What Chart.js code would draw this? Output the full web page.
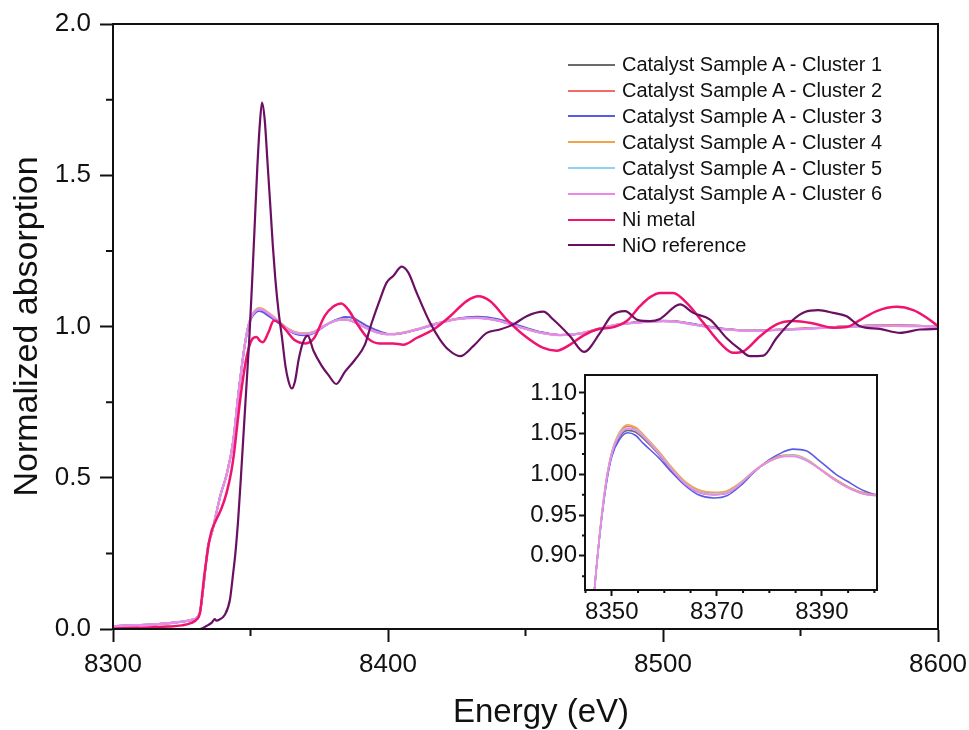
<!DOCTYPE html>
<html>
<head>
<meta charset="utf-8">
<script src="https://cdn.jsdelivr.net/npm/chart.js@4.4.1/dist/chart.umd.min.js"></script>
<style>
  body { margin: 0; background: #fff; }
  #wrap { position: relative; width: 969px; height: 730px; font-family: "Liberation Sans", Arial, sans-serif; }
  #main { position: absolute; left: 0; top: 0; }
  #inset { position: absolute; left: 480px; top: 360px; }
  #legend { position: absolute; left: 568px; top: 52px; }
  #xtitle { position: absolute; left: 541px; top: 694px; transform: translateX(-50%); font-size: 33px; line-height: 33px; color: #111; white-space: nowrap; }
  .row { display: flex; align-items: center; height: 25.8px; font-size: 20px; color: #111; white-space: nowrap; }
  .row .ln { display: inline-block; width: 47px; height: 2px; margin-right: 7px; }
</style>
</head>
<body>
<div id="wrap">
  <canvas id="main" width="969" height="730"></canvas>
  <canvas id="inset" width="420" height="280"></canvas>
  <div id="legend"></div>
  <div id="xtitle">Energy (eV)</div>
</div>
<script>
// axis ticks
const xTicks = [8300, 8400, 8500, 8600];
const xMinor = [8350, 8450, 8550];
const yTicks = [0, 0.5, 1.0, 1.5, 2.0];
const yMinor = [0.25, 0.75, 1.25, 1.75];
const insetXTicks = [8350, 8370, 8390];
const insetXMinor = [8345, 8355, 8360, 8365, 8375, 8380, 8385, 8395, 8400];
const insetYTicks = [0.90, 0.95, 1.00, 1.05, 1.10];
const insetYMinor = [0.875, 0.925, 0.975, 1.025, 1.075];

const seriesNames = ['Catalyst Sample A - Cluster 1', 'Catalyst Sample A - Cluster 2', 'Catalyst Sample A - Cluster 3',
  'Catalyst Sample A - Cluster 4', 'Catalyst Sample A - Cluster 5', 'Catalyst Sample A - Cluster 6', 'Ni metal', 'NiO reference'];
const seriesColors = ['#6b6b6b', '#f26b6b', '#5a5ae6', '#f5a34a', '#8fd3f0', '#ee86ee', '#f0146e', '#6b0f63'];

// energy grid of the six cluster spectra (eV)
const clusterEnergy = [8300, 8310, 8320, 8325, 8328.5, 8331.5, 8333, 8334.5, 8336, 8337.5,
  8339, 8341.3, 8343.7, 8345.5, 8347, 8348, 8349, 8350, 8351.5, 8353,
  8354.5, 8356, 8359, 8361.5, 8364, 8366.5, 8369.5, 8372, 8374.5, 8377,
  8380, 8382.5, 8384.5, 8387, 8389.5, 8392.5, 8395.5, 8398, 8400.5, 8405,
  8410, 8417.5, 8425, 8432.5, 8440, 8448, 8455, 8462.5, 8470, 8477.5,
  8485, 8492.5, 8500, 8506, 8513, 8523, 8533, 8543, 8552, 8562,
  8572, 8584, 8600];

const cluster1 = [0.010, 0.013, 0.019, 0.024, 0.030, 0.052, 0.15, 0.27, 0.32, 0.38,
  0.44, 0.51, 0.62, 0.77, 0.88, 0.943, 0.992, 1.024, 1.046, 1.054,
  1.052, 1.044, 1.024, 1.004, 0.988, 0.978, 0.975, 0.977, 0.988, 1.003,
  1.017, 1.023, 1.023, 1.018, 1.007, 0.994, 0.983, 0.977, 0.975, 0.978,
  0.989, 1.009, 1.025, 1.029, 1.020, 0.998, 0.981, 0.972, 0.977, 0.994,
  1.008, 1.015, 1.018, 1.015, 1.004, 0.991, 0.987, 0.990, 0.993, 0.998,
  1.002, 1.003, 1.001];
const cluster2 = [0.010, 0.013, 0.019, 0.024, 0.030, 0.052, 0.15, 0.27, 0.32, 0.38,
  0.44, 0.51, 0.62, 0.77, 0.88, 0.945, 0.995, 1.027, 1.051, 1.059,
  1.056, 1.047, 1.026, 1.006, 0.990, 0.980, 0.977, 0.979, 0.989, 1.003,
  1.016, 1.022, 1.023, 1.018, 1.007, 0.993, 0.982, 0.976, 0.974, 0.978,
  0.989, 1.009, 1.025, 1.029, 1.020, 0.998, 0.981, 0.972, 0.977, 0.994,
  1.008, 1.015, 1.018, 1.015, 1.004, 0.991, 0.987, 0.990, 0.993, 0.998,
  1.002, 1.003, 1.001];
const cluster3 = [0.010, 0.013, 0.019, 0.024, 0.030, 0.052, 0.15, 0.27, 0.32, 0.38,
  0.44, 0.51, 0.62, 0.77, 0.88, 0.942, 0.990, 1.022, 1.043, 1.051,
  1.048, 1.038, 1.020, 1.002, 0.986, 0.975, 0.971, 0.974, 0.986, 1.002,
  1.018, 1.027, 1.031, 1.029, 1.017, 1.001, 0.989, 0.980, 0.975, 0.978,
  0.988, 1.008, 1.026, 1.032, 1.024, 1.002, 0.983, 0.972, 0.977, 0.993,
  1.008, 1.016, 1.019, 1.016, 1.005, 0.992, 0.987, 0.989, 0.993, 0.998,
  1.002, 1.003, 1.001];
const cluster4 = [0.010, 0.013, 0.019, 0.024, 0.030, 0.052, 0.15, 0.27, 0.32, 0.38,
  0.44, 0.51, 0.62, 0.77, 0.88, 0.945, 0.995, 1.027, 1.052, 1.061,
  1.058, 1.049, 1.028, 1.008, 0.991, 0.981, 0.978, 0.980, 0.990, 1.004,
  1.017, 1.023, 1.024, 1.019, 1.008, 0.994, 0.983, 0.977, 0.975, 0.979,
  0.990, 1.010, 1.025, 1.029, 1.020, 0.998, 0.981, 0.972, 0.978, 0.995,
  1.009, 1.015, 1.018, 1.015, 1.004, 0.991, 0.987, 0.990, 0.993, 0.998,
  1.002, 1.003, 1.001];
const cluster5 = [0.010, 0.013, 0.019, 0.024, 0.030, 0.052, 0.15, 0.27, 0.32, 0.38,
  0.44, 0.51, 0.62, 0.77, 0.88, 0.944, 0.994, 1.026, 1.050, 1.057,
  1.055, 1.047, 1.026, 1.006, 0.989, 0.979, 0.976, 0.978, 0.989, 1.003,
  1.016, 1.022, 1.023, 1.018, 1.007, 0.993, 0.982, 0.976, 0.974, 0.978,
  0.989, 1.009, 1.024, 1.028, 1.019, 0.997, 0.980, 0.971, 0.977, 0.994,
  1.008, 1.014, 1.017, 1.014, 1.003, 0.990, 0.986, 0.989, 0.992, 0.997,
  1.001, 1.002, 1.000];
const cluster6 = [0.010, 0.013, 0.019, 0.024, 0.030, 0.052, 0.15, 0.27, 0.32, 0.38,
  0.44, 0.51, 0.62, 0.77, 0.88, 0.944, 0.993, 1.025, 1.048, 1.056,
  1.054, 1.046, 1.025, 1.005, 0.988, 0.978, 0.975, 0.977, 0.988, 1.003,
  1.016, 1.022, 1.022, 1.017, 1.007, 0.993, 0.982, 0.976, 0.974, 0.978,
  0.989, 1.009, 1.024, 1.028, 1.019, 0.997, 0.980, 0.971, 0.977, 0.994,
  1.008, 1.014, 1.017, 1.014, 1.003, 0.990, 0.986, 0.989, 0.992, 0.997,
  1.001, 1.002, 1.000];

// Ni metal foil
const niEnergy = [8300, 8310, 8320, 8325, 8328.5, 8330.5, 8331.6, 8332.4, 8333.1, 8334,
  8334.8, 8335.7, 8336.5, 8338, 8339.5, 8341.3, 8343, 8344, 8345, 8346,
  8347, 8348.6, 8350.4, 8352.2, 8353.5, 8354.5, 8356.5, 8358.5, 8360.5, 8362.7,
  8366, 8370, 8373, 8377, 8380, 8383, 8386, 8388, 8392.8, 8397,
  8401.9, 8405.6, 8410.4, 8416.5, 8422.6, 8428.6, 8432.9, 8437.1, 8443.2, 8449.2,
  8456.5, 8461.3, 8466.2, 8471, 8475.9, 8482, 8486.8, 8491.6, 8495.3, 8499,
  8503.7, 8508.6, 8514.7, 8520.7, 8525.6, 8529.2, 8535.3, 8541.3, 8547.4, 8554.7,
  8561.9, 8566.8, 8571.6, 8577.7, 8585, 8591, 8595.9, 8600];
const niMetal = [0.002, 0.004, 0.008, 0.012, 0.020, 0.032, 0.052, 0.11, 0.17, 0.23,
  0.28, 0.32, 0.34, 0.37, 0.40, 0.45, 0.52, 0.58, 0.66, 0.74,
  0.81, 0.90, 0.955, 0.965, 0.952, 0.948, 0.980, 1.020, 1.012, 0.990,
  0.955, 0.944, 0.960, 1.035, 1.065, 1.076, 1.050, 1.020, 0.960, 0.944,
  0.944, 0.940, 0.962, 0.990, 1.034, 1.084, 1.100, 1.084, 1.023, 0.973,
  0.929, 0.920, 0.940, 0.970, 0.990, 0.998, 1.018, 1.067, 1.097, 1.111,
  1.111, 1.078, 1.012, 0.946, 0.913, 0.918, 0.968, 1.007, 1.018, 1.010,
  0.996, 0.998, 1.021, 1.051, 1.065, 1.054, 1.029, 1.001];

// NiO reference
const nioEnergy = [8300, 8320, 8331.5, 8334, 8336, 8337, 8337.6, 8338.5, 8340.6, 8342.5,
  8343.7, 8344.5, 8345.5, 8346.5, 8347.5, 8348.5, 8349.5, 8350.5, 8351.5, 8352.5,
  8353.4, 8354.2, 8355.2, 8356.2, 8357.2, 8358.1, 8359, 8360.2, 8361.5, 8362.7,
  8363.8, 8365, 8366.2, 8367.5, 8369, 8370.8, 8372.9, 8375.9, 8378.3, 8381.2,
  8384.3, 8388, 8391.6, 8394, 8397.1, 8399.5, 8401.9, 8405, 8407.4, 8410.4,
  8415.3, 8418.9, 8421.9, 8426.2, 8431, 8435.9, 8440.7, 8445.6, 8450.4, 8456.5,
  8460.1, 8466.2, 8471.3, 8477.1, 8481.3, 8486.2, 8491, 8495.3, 8498.9, 8506.2,
  8511, 8517.1, 8523.1, 8528, 8531.6, 8536.5, 8541.3, 8547.4, 8551.6, 8556.5,
  8561.9, 8566.8, 8571.6, 8578.9, 8586.2, 8593.4, 8600];
const nioRef = [0, 0, 0, 0.010, 0.022, 0.033, 0.028, 0.030, 0.046, 0.096,
  0.185, 0.25, 0.36, 0.50, 0.65, 0.80, 0.95, 1.13, 1.33, 1.53,
  1.67, 1.74, 1.68, 1.54, 1.40, 1.27, 1.16, 1.05, 0.96, 0.87,
  0.82, 0.795, 0.82, 0.89, 0.945, 0.97, 0.92, 0.87, 0.84, 0.81,
  0.85, 0.89, 0.94, 1.01, 1.09, 1.145, 1.167, 1.198, 1.178, 1.112,
  1.012, 0.957, 0.924, 0.902, 0.935, 0.979, 0.990, 1.007, 1.034, 1.049,
  1.023, 0.968, 0.916, 0.979, 1.036, 1.051, 1.021, 1.018, 1.025, 1.073,
  1.045, 1.023, 0.962, 0.924, 0.902, 0.904, 0.962, 1.023, 1.048, 1.054,
  1.045, 1.034, 1.001, 0.992, 0.979, 0.990, 0.992];

Chart.defaults.font.family = '"Liberation Sans", Arial, sans-serif';
Chart.defaults.color = '#111';

function pts(xs, ys) {
  return xs.map((x, i) => ({ x: x, y: ys[i] }));
}

const clusters = [cluster1, cluster2, cluster3, cluster4, cluster5, cluster6];

// box around the plot + short minor ticks
const framePlugin = {
  id: 'frame',
  afterDraw(chart, args, opts) {
    const ctx = chart.ctx, a = chart.chartArea, sx = chart.scales.x, sy = chart.scales.y;
    ctx.save();
    ctx.strokeStyle = '#111';
    ctx.lineWidth = opts.width;
    ctx.strokeRect(a.left, a.top, a.right - a.left, a.bottom - a.top);
    ctx.beginPath();
    opts.minorX.forEach(v => {
      const x = sx.getPixelForValue(v);
      ctx.moveTo(x, a.bottom); ctx.lineTo(x, a.bottom + opts.len);
    });
    opts.minorY.forEach(v => {
      const y = sy.getPixelForValue(v);
      ctx.moveTo(a.left, y); ctx.lineTo(a.left - opts.len, y);
    });
    ctx.stroke();
    ctx.restore();
  }
};

function clusterSets(width) {
  return clusters.map((c, i) => ({
    label: seriesNames[i],
    data: pts(clusterEnergy, c),
    borderColor: seriesColors[i],
    borderWidth: width,
    order: 8 - i
  }));
}

const mainSets = clusterSets(2).concat([
  { label: seriesNames[6], data: pts(niEnergy, niMetal), borderColor: seriesColors[6], borderWidth: 2.5, order: 2 },
  { label: seriesNames[7], data: pts(nioEnergy, nioRef), borderColor: seriesColors[7], borderWidth: 2.2, order: 1 }
]);

function axis(min, max, major, fmt, size, tickLen, pad, fit) {
  return {
    type: 'linear', min: min, max: max,
    afterBuildTicks: s => { s.ticks = major.map(v => ({ value: v })); },
    afterFit: s => {
      fit(s);
      s.paddingLeft = 0; s.paddingRight = 0; s.paddingTop = 0; s.paddingBottom = 0;
    },
    ticks: { font: { size: size }, color: '#111', padding: pad, maxRotation: 0, autoSkip: false, callback: fmt },
    grid: { drawOnChartArea: false, tickLength: tickLen, tickWidth: 2, tickColor: '#111' },
    border: { color: '#111', width: 2 }
  };
}

const mainX = axis(8300, 8600, xTicks, v => String(v), 26, 13, 7, s => { s.height = 101; });
const mainY = axis(0, 2, yTicks, v => v.toFixed(1), 26, 13, 9, s => { s.width = 113; });
mainY.title = { display: true, text: 'Normalized absorption', font: { size: 34 }, color: '#111', padding: { top: 7, bottom: 0 } };

new Chart(document.getElementById('main'), {
  type: 'line',
  data: { datasets: mainSets },
  options: {
    responsive: false, animation: false, devicePixelRatio: 1,
    layout: { padding: { top: 24, right: 31, left: 0, bottom: 0 } },
    elements: { point: { radius: 0 }, line: { cubicInterpolationMode: 'monotone', fill: false } },
    plugins: {
      legend: { display: false }, tooltip: { enabled: false },
      frame: { width: 2, len: 7, minorX: xMinor, minorY: yMinor }
    },
    scales: { x: mainX, y: mainY }
  },
  plugins: [framePlugin]
});

new Chart(document.getElementById('inset'), {
  type: 'line',
  data: { datasets: clusterSets(1.6) },
  options: {
    responsive: false, animation: false, devicePixelRatio: 1,
    layout: { padding: { top: 15, right: 23, left: 0, bottom: 0 } },
    elements: { point: { radius: 0 }, line: { cubicInterpolationMode: 'monotone', fill: false } },
    plugins: {
      legend: { display: false }, tooltip: { enabled: false },
      frame: { width: 2, len: 3, minorX: insetXMinor, minorY: insetYMinor }
    },
    scales: {
      x: axis(8344.9, 8400.5, insetXTicks, v => String(v), 24, 6, 2, s => { s.height = 50; }),
      y: axis(0.858, 1.122, insetYTicks, v => v.toFixed(2), 24, 6, 2, s => { s.width = 105; })
    }
  },
  plugins: [framePlugin]
});

// legend
const legend = document.getElementById('legend');
seriesNames.forEach((name, i) => {
  const row = document.createElement('div');
  row.className = 'row';
  const ln = document.createElement('span');
  ln.className = 'ln';
  ln.style.background = seriesColors[i];
  const tx = document.createElement('span');
  tx.textContent = name;
  row.appendChild(ln);
  row.appendChild(tx);
  legend.appendChild(row);
});
</script>
</body>
</html>
